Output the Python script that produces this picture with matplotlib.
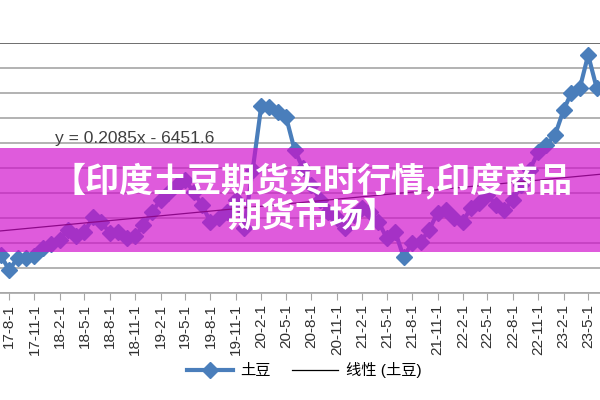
import pandas as pd
import matplotlib
matplotlib.use("Agg")
import matplotlib.pyplot as plt
import matplotlib.dates as mdates
from matplotlib.patches import Rectangle

plt.rcParams['font.family'] = ['Liberation Sans', 'Noto Sans CJK SC', 'DejaVu Sans']

#### 数据 (月度, 2017-7 起)
months = pd.date_range('2017-07-01', periods=72, freq='MS')
potato = [2304, 2184, 2280, 2280, 2296, 2360, 2392, 2424, 2504, 2456, 2488, 2608,
          2568, 2480, 2488, 2440, 2456, 2544, 2648, 2744, 2800, 2864, 2904, 2808,
          2704, 2568, 2600, 2648, 2744, 2520, 2984, 3496, 3488, 3448, 3408, 3144,
          3000, 2864, 2744, 2648, 2600, 2520, 2624, 2680, 2648, 2568, 2440, 2488,
          2288, 2400, 2408, 2504, 2640, 2664, 2600, 2568, 2680, 2720, 2784, 2704,
          2664, 2744, 2864, 2984, 3128, 3184, 3264, 3464, 3600, 3640, 3904, 3640]
tick_dates = pd.date_range('2017-08-01', '2023-05-01', freq='3MS')
tick_labels = [f"{d:%y}-{d.month}-{d.day}" for d in tick_dates]

# 趋势线 y = 0.2085x - 6451.6 (x 为 Excel 日期序号)
slope, intercept = 0.2085, -6451.6
eq_text = "y = 0.2085x - 6451.6"

title_1 = "【印度土豆期货实时行情,印度商品"
title_2 = "期货市场】"

fig = plt.figure(figsize=(6, 4), dpi=100)
ax = fig.add_axes([0, 0.2675, 1, 0.625])

x0 = mdates.date2num(pd.Timestamp('2017-06-29'))
x1 = mdates.date2num(pd.Timestamp('2023-06-13'))
ax.set_xlim(x0, x1)
ax.set_ylim(2000, 4000)

ax.plot(months, potato, color="#4a7ebb", lw=3, marker="D", ms=8.5,
        label="土豆", zorder=3)

tx = [x0, x1]
ty = [slope * (v + 25569) + intercept for v in tx]
ax.plot(tx, ty, color="black", lw=0.9, label="线性 (土豆)", zorder=4)

# 网格
ax.set_yticks(range(2000, 4001, 200))
ax.yaxis.grid(True, color="#a6a6a6", lw=1.2)
ax.set_axisbelow(True)
ax.tick_params(axis='y', left=False, labelleft=False)
for s in ['left', 'right', 'top']:
    ax.spines[s].set_visible(False)
ax.axhline(4000, color="#707070", lw=1.4, zorder=1)
ax.spines['bottom'].set_color("#a6a6a6")
ax.spines['bottom'].set_linewidth(1.2)

ax.set_xticks(tick_dates)
ax.set_xticklabels(tick_labels, rotation=90, fontsize=11, color="#303030")
ax.tick_params(axis='x', length=5, color="#a6a6a6", pad=3)

ax.text(0.092, 0.655, eq_text, transform=fig.transFigure, fontsize=12.5,
        color="#404040", va="center")

fig.legend(loc="center", bbox_to_anchor=(0.507, 0.075), ncol=2, frameon=False,
           fontsize=11, handlelength=3.0, columnspacing=1.4, handletextpad=0.5)

# 标题横幅
fig.add_artist(Rectangle((0, 0.37), 1, 0.26, transform=fig.transFigure,
                         facecolor=(0.82, 0.05, 0.80), alpha=0.68, lw=0, zorder=10))
fig.text(0.52, 0.547, title_1, color="white", fontsize=24.5, fontweight="heavy",
         ha="center", va="center", zorder=11, family=['Noto Sans CJK SC'])
fig.text(0.52, 0.46, title_2, color="white", fontsize=24.5, fontweight="heavy",
         ha="center", va="center", zorder=11, family=['Noto Sans CJK SC'])

fig.savefig("out.png", dpi=100)
